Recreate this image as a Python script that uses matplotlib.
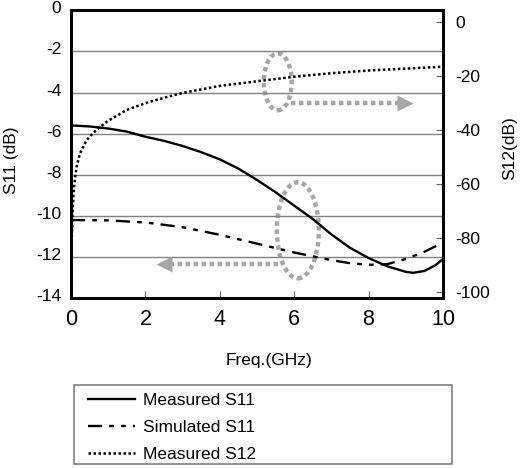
"""S11 / S12 versus frequency, measured and simulated"""

import matplotlib
matplotlib.use("Agg")
import matplotlib.pyplot as plt
from matplotlib.patches import Ellipse, Rectangle
from matplotlib.transforms import ScaledTranslation

plt.rcParams['font.family'] = ['Liberation Sans', 'DejaVu Sans']

# values
meas_s11_f = [0, 0.5, 1, 1.5, 2, 2.5, 3, 3.5, 4, 4.5, 5, 5.5, 6, 6.5, 7, 7.5, 8, 8.5, 9, 9.2, 9.5, 9.8, 10]
meas_s11 = [-5.6, -5.65, -5.75, -5.9, -6.15, -6.35, -6.6, -6.9, -7.25, -7.7, -8.25, -8.85, -9.5,
            -10.15, -10.9, -11.55, -12.05, -12.45, -12.72, -12.77, -12.68, -12.4, -12.1]

sim_s11_f = [0, 1, 2, 3, 4, 5, 6, 7, 7.5, 8, 8.5, 9, 9.5, 10]
sim_s11 = [-10.2, -10.22, -10.32, -10.55, -10.92, -11.35, -11.78, -12.15, -12.3, -12.38, -12.35,
           -12.1, -11.75, -11.3]

meas_s12_f = [0, 0.02, 0.05, 0.08, 0.15, 0.24, 0.42, 0.6, 0.78, 1, 1.5, 2, 2.5, 3, 4, 5, 6, 7, 8, 9, 10]
meas_s12 = [-100, -80, -68, -61, -53.6, -48.6, -43.7, -41, -38.8, -36.5, -32.5, -30, -28, -26.2,
            -23.6, -21.9, -20.2, -18.9, -17.9, -17.2, -16.5]

x_ticks = [0, 2, 4, 6, 8, 10]
s11_ticks = [0, -2, -4, -6, -8, -10, -12, -14]
s12_ticks = [0, -20, -40, -60, -80, -100]

GRAY = '#a6a6a6'

fig = plt.figure(figsize=(5.26, 4.68), dpi=100)
ax = fig.add_axes([0.135, 0.363, 0.707, 0.615])
ax2 = ax.twinx()

l1, = ax.plot(meas_s11_f, meas_s11, color='black', lw=1.7, label='Measured S11')
l2, = ax.plot(sim_s11_f, sim_s11, color='black', lw=1.7,
              linestyle=(0, (6, 3, 2, 3, 2, 3)), label='Simulated S11')
l3, = ax2.plot(meas_s12_f, meas_s12, color='black', lw=1.8,
               linestyle=(0, (1, 1)), label='Measured S12')

ax.set_xlim(0, 10)
ax.set_ylim(-14, 0)
ax2.set_ylim(-102.2, 4.4)

ax.set_xticks(x_ticks)
ax.set_yticks(s11_ticks)
ax.set_yticklabels([str(t) for t in s11_ticks])
ax2.set_yticks(s12_ticks)
ax2.set_yticklabels([str(t) for t in s12_ticks])

ax.grid(axis='y', color='#808080', lw=1)
ax.tick_params(axis='x', direction='in', length=5, width=0.8, color='#606060',
               labelsize=15.5, pad=8)
ax.tick_params(axis='y', length=0, labelsize=12.5, pad=7)
ax2.tick_params(axis='y', direction='in', length=5, width=0.8, color='#606060',
                labelsize=12.5, pad=9)

# left labels sit a little above their grid lines in the original
for tick in ax.yaxis.get_major_ticks():
    tick.label1.set_transform(tick.label1.get_transform()
                              + ScaledTranslation(0, 0.03, fig.dpi_scale_trans))

for a in (ax, ax2):
    for sp in a.spines.values():
        sp.set_linewidth(2)

# gray markers pointing each curve to its axis
ann = dict(fill=False, edgecolor=GRAY, lw=3.2, linestyle=(0, (1, 0.8)))
ax.add_patch(Ellipse((5.56, -3.48), 0.75, 2.77, **ann))
ax.add_patch(Ellipse((6.1, -10.7), 1.13, 4.67, **ann))
ax.plot([5.92, 8.85], [-4.5, -4.5], color=GRAY, lw=3.2, linestyle=(0, (1, 0.8)))
ax.plot([8.98], [-4.5], marker='>', ms=12, color=GRAY, mec='none')
ax.plot([5.56, 2.65], [-12.36, -12.36], color=GRAY, lw=3.2, linestyle=(0, (1, 0.8)))
ax.plot([2.5], [-12.36], marker='<', ms=12, color=GRAY, mec='none')

fig.text(11.5 / 526, 1 - 160 / 468, 'S11 (dB)', rotation=90, ha='center', va='center', fontsize=12.5)
fig.text(510 / 526, 1 - 148 / 468, 'S12(dB)', rotation=90, ha='center', va='center', fontsize=12.5)
fig.text(269 / 526, 1 - 360 / 468, 'Freq.(GHz)', ha='center', va='center', fontsize=12.5)

fig.patches.append(Rectangle((74 / 526, 1 - 464 / 468), 378 / 526, 79 / 468,
                             transform=fig.transFigure, fill=False,
                             edgecolor='#808080', lw=1.2))
fig.legend(handles=[l1, l2, l3], loc='upper left', bbox_to_anchor=(88 / 526, 1 - 393 / 468),
           frameon=False, fontsize=12.5, borderpad=0, borderaxespad=0,
           handlelength=2.7, handletextpad=0.45, labelspacing=0.67)

fig.savefig('out.png', dpi=100)
